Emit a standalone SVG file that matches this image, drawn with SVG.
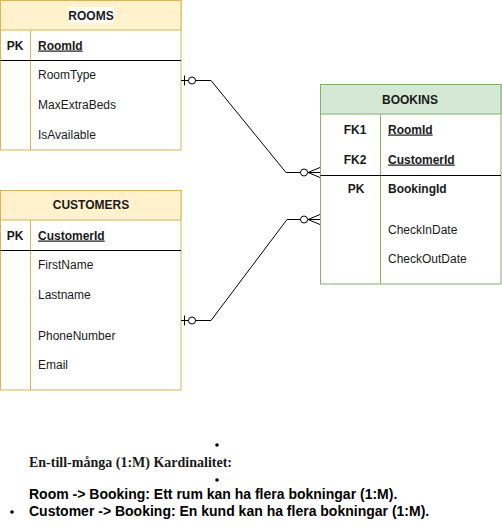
<svg xmlns="http://www.w3.org/2000/svg" width="502" height="526" viewBox="0 0 502 526">
<style>
.yb{fill:#ffffff;stroke:#d6b656;stroke-width:1}
.yh{fill:#fff2cc;stroke:#d6b656;stroke-width:1}
.gb{fill:#ffffff;stroke:#82b366;stroke-width:1}
.gh{fill:#d5e8d4;stroke:#82b366;stroke-width:1}
.ydiv{stroke:#d6b656;stroke-width:1}
.gdiv{stroke:#82b366;stroke-width:1}
.sep{stroke:#000;stroke-width:1}
text{font-family:"Liberation Sans",Arial,sans-serif;font-size:12px;fill:#1a1a1a}
.t{font-weight:bold;text-anchor:middle}
.k{font-weight:bold;text-anchor:middle}
.u{font-weight:bold;text-decoration:underline}
.b{font-weight:bold}
.c{fill:none;stroke:#000;stroke-width:1}
.ci{fill:#fff;stroke:#000;stroke-width:1}
.note{font-size:14px;font-weight:bold;fill:#000}
.ser{font-family:"Liberation Serif","Times New Roman",serif;font-size:14px;font-weight:bold;fill:#1a1a1a}
</style>
<g id="rooms">
<rect class="yb" x="0.5" y="0.5" width="180.5" height="149.5"/>
<rect class="yh" x="0.5" y="0.5" width="180.5" height="29.5"/>
<rect x="68" y="7" width="46" height="16" fill="#fff"/>
<text class="t" x="91" y="19.5">ROOMS</text>
<line class="ydiv" x1="30.5" y1="30" x2="30.5" y2="150"/>
<line class="sep" x1="0.5" y1="60.5" x2="181" y2="60.5"/>
<text class="k" x="15" y="49.5">PK</text>
<text class="u" x="38" y="49.5">RoomId</text>
<text x="38" y="79">RoomType</text>
<text x="38" y="109">MaxExtraBeds</text>
<text x="38" y="139">IsAvailable</text>
</g>
<g id="customers">
<rect class="yb" x="0.5" y="190.5" width="180.5" height="199.5"/>
<rect class="yh" x="0.5" y="190.5" width="180.5" height="29.5"/>
<text class="t" x="91" y="209">CUSTOMERS</text>
<line class="ydiv" x1="30.5" y1="220" x2="30.5" y2="390"/>
<line class="sep" x1="0.5" y1="250.5" x2="181" y2="250.5"/>
<text class="k" x="15" y="239.5">PK</text>
<text class="u" x="38" y="239.5">CustomerId</text>
<text x="38" y="269">FirstName</text>
<text x="38" y="299">Lastname</text>
<text x="38" y="340">PhoneNumber</text>
<text x="38" y="369">Email</text>
</g>
<g id="bookins">
<rect class="gb" x="320.5" y="84.5" width="180.5" height="199.5"/>
<rect class="gh" x="320.5" y="84.5" width="180.5" height="29.5"/>
<text class="t" x="410" y="103.5">BOOKINS</text>
<line class="gdiv" x1="380.5" y1="114" x2="380.5" y2="284"/>
<line class="sep" x1="320.5" y1="175.5" x2="501" y2="175.5"/>
<text class="k" x="355" y="133.5">FK1</text>
<text class="u" x="388" y="133.5">RoomId</text>
<text class="k" x="355" y="163.5">FK2</text>
<text class="u" x="388" y="163.5">CustomerId</text>
<text class="k" x="356" y="192.5">PK</text>
<text class="b" x="388" y="192.5">BookingId</text>
<text x="388" y="234">CheckInDate</text>
<text x="388" y="263">CheckOutDate</text>
</g>
<g id="connectors">
<path class="c" d="M181 80.5 H211 L286 172.5 H320"/>
<line class="c" x1="184.5" y1="75.5" x2="184.5" y2="85.5"/>
<circle class="ci" cx="192" cy="80.5" r="3.5"/>
<circle class="ci" cx="304" cy="172.5" r="3.5"/>
<path class="c" d="M320 167.5 L308 172.5 L320 177.5"/>
<path class="c" d="M181 320.5 H211 L287 219.5 H320"/>
<line class="c" x1="184.5" y1="315.5" x2="184.5" y2="325.5"/>
<circle class="ci" cx="192" cy="320.5" r="3.5"/>
<circle class="ci" cx="304" cy="219.5" r="3.5"/>
<path class="c" d="M320 214.5 L308 219.5 L320 224.5"/>
</g>
<g id="notes">
<circle cx="217" cy="445" r="1.8" fill="#000"/>
<text class="ser" x="29" y="467">En-till-många (1:M) Kardinalitet:</text>
<circle cx="217" cy="480" r="1.8" fill="#000"/>
<text class="note" x="29" y="499">Room -&gt; Booking: Ett rum kan ha flera bokningar (1:M).</text>
<circle cx="12" cy="512" r="1.8" fill="#000"/>
<text class="note" x="29" y="516">Customer -&gt; Booking: En kund kan ha flera bokningar (1:M).</text>
</g>
</svg>
